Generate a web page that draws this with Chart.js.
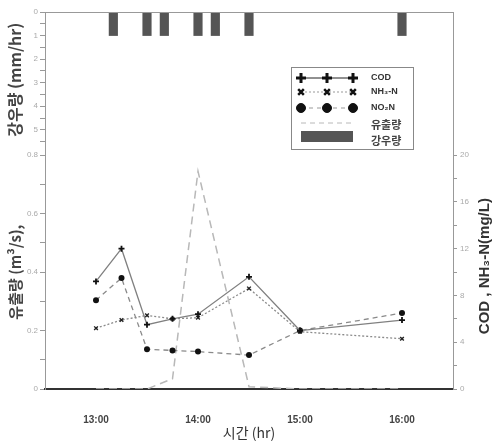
<!DOCTYPE html>
<html>
<head>
<meta charset="utf-8">
<script src="https://cdn.jsdelivr.net/npm/chart.js@4/dist/chart.umd.min.js"></script>
<style>
  html, body { margin: 0; padding: 0; background: #fff; }
</style>
</head>
<body>
<canvas id="chart" width="497" height="443"></canvas>
<script>
// sampling times in decimal hours
const sampleTimes = [13.0, 13.25, 13.5, 13.75, 14.0, 14.5, 15.0, 16.0];
const codValues = [9.2, 12.0, 5.5, 6.0, 6.4, 9.6, 5.0, 5.9];     // mg/L
const nh3Values = [5.2, 5.9, 6.3, 6.0, 6.1, 8.6, 4.9, 4.3];      // mg/L
const no2Values = [7.6, 9.5, 3.4, 3.3, 3.2, 2.9, 5.0, 6.5];      // mg/L
const flowValues = [0, 0, 0, 0.035, 0.745, 0.008, 0, 0];         // m3/s

// rainfall (mm/hr)
const rainTimes = [13.17, 13.5, 13.67, 14.0, 14.17, 14.5, 16.0];
const rainValues = [1, 1, 1, 1, 1, 1, 1];

// tick labels
const timeTickValues = [13, 14, 15, 16];
const timeTickLabels = ['13:00', '14:00', '15:00', '16:00'];
const rainTickValues = [0, 1, 2, 3, 4, 5];
const rainTickLabels = ['0', '1', '2', '3', '4', '5'];
const flowTickValues = [0, 0.2, 0.4, 0.6, 0.8];
const flowTickLabels = ['0', '0.2', '0.4', '0.6', '0.8'];
const concTickValues = [0, 4, 8, 12, 16, 20];
const concTickLabels = ['0', '4', '8', '12', '16', '20'];

// axis ranges: rain panel on top (reversed), flow / concentration below
const X_MIN = 12.5, X_MAX = 16.5;
const RAIN_MAX = 16;
const FLOW_MAX = 1.29;
const CONC_MAX = 20 / 0.8 * FLOW_MAX;

const LATIN = '"Liberation Sans", Arial, sans-serif';
const HANGUL = '"Noto Sans CJK KR", "Liberation Sans", sans-serif';

const pts = (xs, ys) => xs.map((x, i) => ({ x: x, y: ys[i] }));
const key = v => v.toFixed(4);

// the left axis carries both the rain ticks (top) and the flow ticks (bottom)
const rainToFlow = r => FLOW_MAX * (1 - r / RAIN_MAX);
const leftTicks = [];
const leftLabels = {};
for (let i = 0; i <= 8; i++) {
  const v = i / 10;
  leftTicks.push(v);
  const j = flowTickValues.findIndex(t => Math.abs(t - v) < 1e-6);
  leftLabels[key(v)] = j >= 0 ? flowTickLabels[j] : '';
}
for (let r = 0; r <= 5.5; r += 0.5) {
  const v = rainToFlow(r);
  leftTicks.push(v);
  const j = rainTickValues.indexOf(r);
  leftLabels[key(v)] = j >= 0 ? rainTickLabels[j] : '';
}

const rightTicks = [];
const rightLabels = {};
for (let v = 0; v <= 20; v += 2) {
  rightTicks.push(v);
  const j = concTickValues.indexOf(v);
  rightLabels[key(v)] = j >= 0 ? concTickLabels[j] : '';
}

function vText(ctx, text, x, y, font, color) {
  ctx.save();
  ctx.translate(x, y);
  ctx.rotate(-Math.PI / 2);
  ctx.font = font;
  ctx.fillStyle = color;
  ctx.textAlign = 'center';
  ctx.textBaseline = 'middle';
  ctx.fillText(text, 0, 0);
  ctx.restore();
}

function legendPoint(ctx, ds, x, y, radius, width) {
  ctx.setLineDash([]);
  ctx.strokeStyle = '#111';
  ctx.fillStyle = '#111';
  ctx.lineWidth = width;
  Chart.helpers.drawPoint(ctx, { pointStyle: ds.pointStyle, radius: radius, rotation: 0, borderWidth: width }, x, y);
}

// titles, top frame line and the boxed legend
const panelText = {
  id: 'panelText',
  afterDraw(chart) {
    const ctx = chart.ctx;
    const a = chart.chartArea;
    const yFlow = chart.scales.yFlow;
    const yRain = chart.scales.yRain;

    ctx.save();
    ctx.strokeStyle = '#999';
    ctx.lineWidth = 1;
    ctx.beginPath();
    ctx.moveTo(a.left, a.top + 0.5);
    ctx.lineTo(a.right, a.top + 0.5);
    ctx.stroke();
    ctx.restore();

    const rainMid = (yRain.getPixelForValue(0) + yRain.getPixelForValue(6)) / 2;
    const flowMid = (yFlow.getPixelForValue(0) + yFlow.getPixelForValue(0.8)) / 2;
    vText(ctx, '강우량 (mm/hr)', 15, rainMid - 3, 'bold 16px ' + HANGUL, '#444');
    vText(ctx, '유출량 (m³/s),', 15, flowMid, 'bold 15px ' + HANGUL, '#444');
    vText(ctx, 'COD , NH₃-N(mg/L)', 485, flowMid - 6, 'bold 15px ' + LATIN, '#333');

    // legend
    const ds = chart.data.datasets;
    const bx = 291, by = 67, bw = 122, bh = 82;
    ctx.save();
    ctx.strokeStyle = '#888';
    ctx.lineWidth = 1;
    ctx.strokeRect(bx + 0.5, by + 0.5, bw, bh);

    const x0 = 301, x1 = 353, xm = (x0 + x1) / 2, tx = 371;
    const rows = [
      { ds: ds[0], y: 78, dash: [], color: '#222', r: 5, w: 3 },
      { ds: ds[1], y: 92, dash: [2, 2], color: '#999', r: 4, w: 2.5 },
      { ds: ds[2], y: 108, dash: [4, 4], color: '#999', r: 4.5, w: 1 }
    ];
    rows.forEach(row => {
      ctx.setLineDash(row.dash);
      ctx.strokeStyle = row.color;
      ctx.lineWidth = 1;
      ctx.beginPath();
      ctx.moveTo(x0, row.y);
      ctx.lineTo(x1, row.y);
      ctx.stroke();
      [x0, xm, x1].forEach(px => legendPoint(ctx, row.ds, px, row.y, row.r, row.w));
      ctx.font = 'bold 9px ' + LATIN;
      ctx.fillStyle = '#333';
      ctx.textAlign = 'left';
      ctx.textBaseline = 'middle';
      ctx.fillText(row.ds.label, tx, row.y);
    });

    ctx.setLineDash([5, 4]);
    ctx.strokeStyle = ds[3].borderColor;
    ctx.lineWidth = 1;
    ctx.beginPath();
    ctx.moveTo(x0, 123);
    ctx.lineTo(x1, 123);
    ctx.stroke();
    ctx.setLineDash([]);
    ctx.fillStyle = ds[4].backgroundColor;
    ctx.fillRect(x0, 131, x1 - x0, 11);

    ctx.font = 'bold 11px ' + HANGUL;
    ctx.fillStyle = '#444';
    ctx.fillText(ds[3].label, tx, 125);
    ctx.fillText(ds[4].label, tx, 141);
    ctx.restore();
  }
};

new Chart(document.getElementById('chart'), {
  type: 'line',
  data: {
    datasets: [
      {
        label: 'COD',
        data: pts(sampleTimes, codValues),
        yAxisID: 'yConc',
        borderColor: '#808080',
        borderWidth: 1.3,
        pointStyle: 'cross',
        pointRadius: 3,
        pointBorderWidth: 1.8,
        pointBorderColor: '#111',
        pointBackgroundColor: '#111',
        order: 1
      },
      {
        label: 'NH₃-N',
        data: pts(sampleTimes, nh3Values),
        yAxisID: 'yConc',
        borderColor: '#8a8a8a',
        borderWidth: 1.3,
        borderDash: [2, 2],
        pointStyle: 'crossRot',
        pointRadius: 2.6,
        pointBorderWidth: 1.4,
        pointBorderColor: '#222',
        pointBackgroundColor: '#222',
        order: 2
      },
      {
        label: 'NO₂N',
        data: pts(sampleTimes, no2Values),
        yAxisID: 'yConc',
        borderColor: '#8a8a8a',
        borderWidth: 1.3,
        borderDash: [5, 4],
        pointStyle: 'circle',
        pointRadius: 3,
        pointBorderWidth: 0,
        pointBackgroundColor: '#111',
        order: 3
      },
      {
        label: '유출량',
        data: pts(sampleTimes, flowValues),
        yAxisID: 'yFlow',
        borderColor: '#b8b8b8',
        borderWidth: 1.5,
        borderDash: [8, 5],
        pointRadius: 0,
        order: 4
      },
      {
        type: 'bar',
        label: '강우량',
        data: pts(rainTimes, rainValues),
        yAxisID: 'yRain',
        backgroundColor: '#555',
        barThickness: 8.5,
        order: 5
      }
    ]
  },
  options: {
    responsive: false,
    animation: false,
    layout: { padding: { top: 12, left: 0, right: 0, bottom: 0 } },
    plugins: { legend: { display: false }, tooltip: { enabled: false } },
    scales: {
      x: {
        type: 'linear',
        min: X_MIN,
        max: X_MAX,
        offset: false,
        grid: { display: false },
        border: { color: '#333', width: 2 },
        afterBuildTicks: s => { s.ticks = timeTickValues.map(v => ({ value: v })); },
        afterFit: s => { s.height = 54; },
        ticks: {
          autoSkip: false,
          maxRotation: 0,
          padding: 17,
          color: '#444',
          font: { family: LATIN, size: 10, weight: 'bold' },
          callback: v => timeTickLabels[timeTickValues.indexOf(v)]
        },
        title: {
          display: true,
          text: '시간 (hr)',
          color: '#333',
          font: { family: HANGUL, size: 14 },
          padding: { top: 0, bottom: 2 }
        }
      },
      yFlow: {
        type: 'linear',
        position: 'left',
        min: 0,
        max: FLOW_MAX,
        grid: { drawOnChartArea: false, tickLength: 5, tickColor: '#999' },
        border: { color: '#999', width: 1 },
        afterBuildTicks: s => { s.ticks = leftTicks.map(v => ({ value: v })); },
        afterFit: s => { s.width = 45; },
        ticks: {
          autoSkip: false,
          padding: 2,
          color: '#aaa',
          font: { family: LATIN, size: 8 },
          callback: v => leftLabels[key(v)]
        }
      },
      yRain: {
        type: 'linear',
        display: false,
        reverse: true,
        min: 0,
        max: RAIN_MAX
      },
      yConc: {
        type: 'linear',
        position: 'right',
        min: 0,
        max: CONC_MAX,
        grid: { drawOnChartArea: false, tickLength: 4, tickColor: '#999' },
        border: { color: '#999', width: 1 },
        afterBuildTicks: s => { s.ticks = rightTicks.map(v => ({ value: v })); },
        afterFit: s => { s.width = 44; },
        ticks: {
          autoSkip: false,
          padding: 3,
          color: '#aaa',
          font: { family: LATIN, size: 8 },
          callback: v => rightLabels[key(v)]
        }
      }
    }
  },
  plugins: [panelText]
});
</script>
</body>
</html>
